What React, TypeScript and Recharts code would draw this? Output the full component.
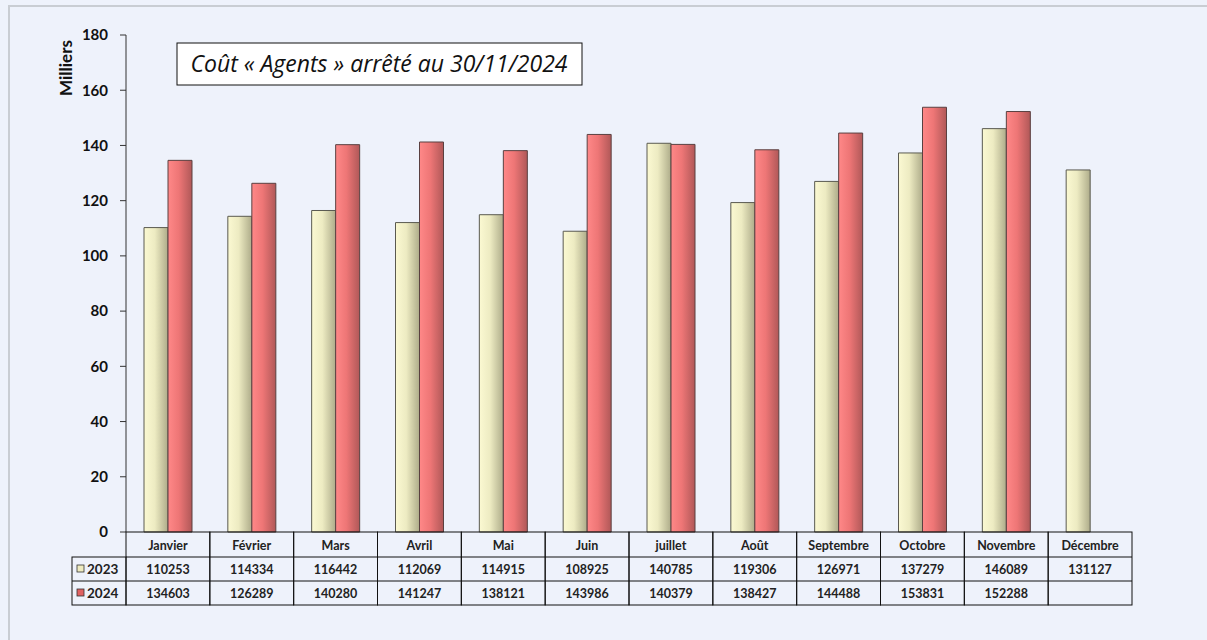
import React from "react";
import { BarChart, Bar, XAxis, YAxis, Customized } from "recharts";

const MONTHS = [
  "Janvier", "Février", "Mars", "Avril", "Mai", "Juin",
  "juillet", "Août", "Septembre", "Octobre", "Novembre", "Décembre",
];
const COST_2023 = [110253, 114334, 116442, 112069, 114915, 108925, 140785, 119306, 126971, 137279, 146089, 131127];
const COST_2024: (number | null)[] = [134603, 126289, 140280, 141247, 138121, 143986, 140379, 138427, 144488, 153831, 152288, null];
const Y_TICKS = [0, 20, 40, 60, 80, 100, 120, 140, 160, 180];

const W = 1207;
const H = 640;
const AXIS_X = 126;
const RIGHT = 75;
const TOP = 35;
const TABLE_H = 108;
const CELL_W = (W - AXIS_X - RIGHT) / MONTHS.length;
const ROWS = [25, 24, 24];
const FONT = "Lato, 'Liberation Sans', sans-serif";

const data = MONTHS.map((m, i) => ({
  month: m,
  y2023: COST_2023[i] / 1000,
  y2024: COST_2024[i] == null ? null : (COST_2024[i] as number) / 1000,
}));

// cellules du tableau de données sous chaque mois
const TableTick = ({ x, y, index }: any) => {
  const left = x - CELL_W / 2;
  const r1 = y + ROWS[0];
  const r2 = r1 + ROWS[1];
  const r3 = r2 + ROWS[2];
  const v24 = COST_2024[index];
  return (
    <g fontFamily={FONT} fontWeight="bold" fontSize={12.5} fill="#222">
      <rect x={left} y={y} width={CELL_W} height={r3 - y} fill="none" stroke="#111" strokeWidth={1} />
      <line x1={left} x2={left + CELL_W} y1={r1} y2={r1} stroke="#111" />
      <line x1={left} x2={left + CELL_W} y1={r2} y2={r2} stroke="#111" />
      <text x={x} y={y + ROWS[0] / 2 + 5} textAnchor="middle">{MONTHS[index]}</text>
      <text x={x} y={r1 + ROWS[1] / 2 + 5} textAnchor="middle">{COST_2023[index]}</text>
      {v24 != null && (
        <text x={x} y={r2 + ROWS[2] / 2 + 5} textAnchor="middle">{v24}</text>
      )}
      {index === 0 && (
        <g>
          <rect x={72} y={r1} width={left - 72} height={r3 - r1} fill="none" stroke="#111" />
          <line x1={72} x2={left} y1={r2} y2={r2} stroke="#111" />
          <rect x={77} y={r1 + 8} width={7} height={7} fill="#EEEBC0" stroke="#333" strokeWidth={0.8} />
          <text x={87} y={r1 + ROWS[1] / 2 + 5} fontSize={13.5}>2023</text>
          <rect x={77} y={r2 + 8} width={7} height={7} fill="#E06262" stroke="#333" strokeWidth={0.8} />
          <text x={87} y={r2 + ROWS[2] / 2 + 5} fontSize={13.5}>2024</text>
        </g>
      )}
    </g>
  );
};

const Decorations = () => (
  <g>
    <text
      x={72}
      y={68}
      transform="rotate(-90 72 68)"
      textAnchor="middle"
      fontFamily={FONT}
      fontWeight="bold"
      fontSize={17}
      fill="#111"
    >
      Milliers
    </text>
    <rect x={177} y={43} width={405} height={42} fill="#fff" stroke="#111" strokeWidth={1} />
    <text x={379} y={72} textAnchor="middle" fontFamily="'Open Sans', sans-serif" fontStyle="italic" fontSize={23} fill="#111">
      Coût « Agents » arrêté au 30/11/2024
    </text>
  </g>
);

export default function App() {
  return (
    <div style={{ position: "absolute", left: 0, top: 0, width: W, height: H, background: "#EEF2FB" }}>
      <div style={{ position: "absolute", left: 8, top: 5, right: 0, bottom: 0, borderLeft: "2px solid #C9CDD3", borderTop: "2px solid #C9CDD3" }} />
      <BarChart
        width={W}
        height={H}
        data={data}
        margin={{ top: TOP, right: RIGHT, left: 0, bottom: 0 }}
        barCategoryGap={18}
        barGap={0}
        style={{ position: "absolute", left: 0, top: 0 }}
      >
        <defs>
          <linearGradient id="g2023" x1="0" y1="0" x2="1" y2="0">
            <stop offset="0%" stopColor="#FBF9D2" />
            <stop offset="45%" stopColor="#EDEBC2" />
            <stop offset="100%" stopColor="#AEAC8A" />
          </linearGradient>
          <linearGradient id="g2024" x1="0" y1="0" x2="1" y2="0">
            <stop offset="0%" stopColor="#FF8888" />
            <stop offset="45%" stopColor="#EE7676" />
            <stop offset="100%" stopColor="#B05858" />
          </linearGradient>
        </defs>
        <XAxis
          dataKey="month"
          height={TABLE_H}
          axisLine={false}
          tickLine={false}
          tickSize={0}
          tickMargin={0}
          interval={0}
          tick={<TableTick />}
        />
        <YAxis
          width={AXIS_X}
          domain={[0, 180]}
          ticks={Y_TICKS}
          interval={0}
          axisLine={{ stroke: "#333", strokeWidth: 1 }}
          tickLine={{ stroke: "#333", strokeWidth: 1 }}
          tickSize={6}
          tickMargin={12}
          tick={{ fontFamily: FONT, fontWeight: "bold", fontSize: 15, fill: "#111" }}
        />
        <Bar dataKey="y2023" fill="url(#g2023)" stroke="#5A5A50" strokeWidth={1} isAnimationActive={false} />
        <Bar dataKey="y2024" fill="url(#g2024)" stroke="#5A4040" strokeWidth={1} isAnimationActive={false} />
        <Customized component={<Decorations />} />
      </BarChart>
    </div>
  );
}
